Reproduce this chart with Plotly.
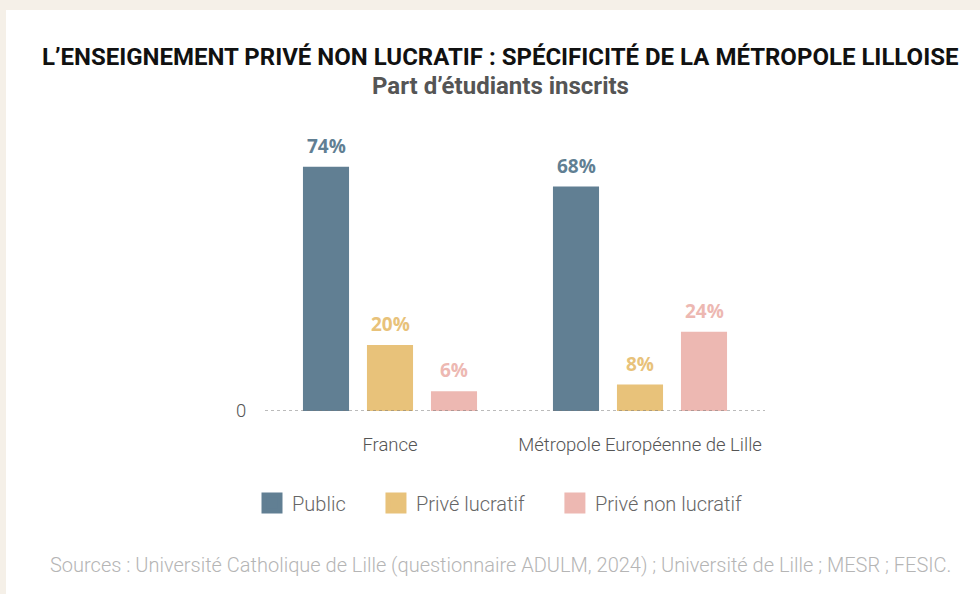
import plotly.graph_objects as go

categories = ["France", "Métropole Européenne de Lille"]
series_names = ["Public", "Privé lucratif", "Privé non lucratif"]
public = [74, 68]
prive_lucratif = [20, 8]
prive_non_lucratif = [6, 24]
series_values = [public, prive_lucratif, prive_non_lucratif]
bar_colors = ["#617f93", "#e8c27a", "#edb8b2"]
label_colors = ["#617f93", "#e8c27a", "#edb8b2"]

title_text = "L’ENSEIGNEMENT PRIVÉ NON LUCRATIF : SPÉCIFICITÉ DE LA MÉTROPOLE LILLOISE"
subtitle_text = "Part d’étudiants inscrits"
source_text = "Sources : Université Catholique de Lille (questionnaire ADULM, 2024) ; Université de Lille ; MESR ; FESIC."

W, H = 980, 594
ML, MR, MT, MB = 265, 215, 147, 183
plot_w = W - ML - MR
plot_h = H - MT - MB
y_max = 80
bargap = 0.232
bargroupgap = 0.28

fig = go.Figure()
for k, (name, vals, col) in enumerate(zip(series_names, series_values, bar_colors)):
    fig.add_trace(go.Bar(x=categories, y=vals, name=name, marker_color=col,
                         marker_line_width=0, showlegend=False, hoverinfo="skip"))
    legend_name = name + ("\u2002\u2002\u00a0" if k < len(series_names) - 1 else "")
    fig.add_trace(go.Scatter(x=[None], y=[None], mode="markers", name=legend_name,
                             marker=dict(symbol="square", size=16, color=col,
                                         line=dict(color=col, width=5)),
                             showlegend=True))

# value labels via annotations positioned from the grouped-bar layout
n = len(series_names)
slot = (1 - bargap) / n
for s, (vals, col) in enumerate(zip(series_values, label_colors)):
    off = (s - (n - 1) / 2) * slot
    for i, v in enumerate(vals):
        fig.add_annotation(x=i + off, y=v, xref="x", yref="y", text=f"<b>{v}%</b>",
                           showarrow=False, yanchor="bottom", yshift=6,
                           font=dict(family="Open Sans", size=19, color=col, weight=700))

# white panel on beige page
fig.add_shape(type="rect", xref="paper", yref="paper",
              x0=(6 - ML) / plot_w, x1=(W + 5 - ML) / plot_w,
              y0=-(MB + 5) / plot_h, y1=(H - MB - 10) / plot_h,
              fillcolor="white", line_width=0, layer="below")
# dotted baseline
fig.add_shape(type="line", xref="paper", yref="y", x0=0, x1=1, y0=0, y1=0,
              line=dict(color="#777777", width=1, dash="dot"))

fig.add_annotation(xref="paper", yref="paper", x=(500 - ML) / plot_w, y=(H - MB - 57) / plot_h,
                   text=title_text, showarrow=False, yanchor="middle",
                   font=dict(family="Roboto", size=24, color="#111111", weight=700))
fig.add_annotation(xref="paper", yref="paper", x=(500 - ML) / plot_w, y=(H - MB - 86) / plot_h,
                   text=subtitle_text, showarrow=False, yanchor="middle",
                   font=dict(family="Roboto", size=24, color="#555555", weight=700))
fig.add_annotation(xref="paper", yref="paper", x=(500 - ML) / plot_w, y=(H - MB - 565) / plot_h,
                   text=source_text, showarrow=False, yanchor="middle",
                   font=dict(family="Roboto", size=20, color="#b5b5b5", weight=300))

fig.update_layout(
    width=W, height=H,
    margin=dict(l=ML, r=MR, t=MT, b=MB),
    paper_bgcolor="#f5f0e8", plot_bgcolor="rgba(0,0,0,0)",
    barmode="group", bargap=bargap, bargroupgap=bargroupgap,
    font=dict(family="Roboto", color="#555555"),
    legend=dict(orientation="h", x=(500 - ML) / plot_w, xanchor="center",
                y=-(503 - (H - MB)) / plot_h, yanchor="middle",
                font=dict(family="Roboto", size=20, color="#666666", weight=300),
                itemwidth=30, bgcolor="rgba(0,0,0,0)", tracegroupgap=0),
    xaxis=dict(showgrid=False, showline=False, zeroline=False,
               ticks="outside", ticklen=17, tickcolor="rgba(0,0,0,0)",
               tickfont=dict(family="Roboto", size=18.5, color="#555555", weight=300),
               fixedrange=True),
    yaxis=dict(range=[0, y_max], showgrid=False, showline=False, zeroline=False,
               tickvals=[0], ticktext=["0"], ticks="outside", ticklen=14,
               tickcolor="rgba(0,0,0,0)",
               tickfont=dict(family="Roboto", size=18.5, color="#555555", weight=300),
               fixedrange=True),
)

fig.write_html("out.html", config={"displayModeBar": False},
               post_script="document.body.style.margin='0';document.body.style.overflow='hidden';")
